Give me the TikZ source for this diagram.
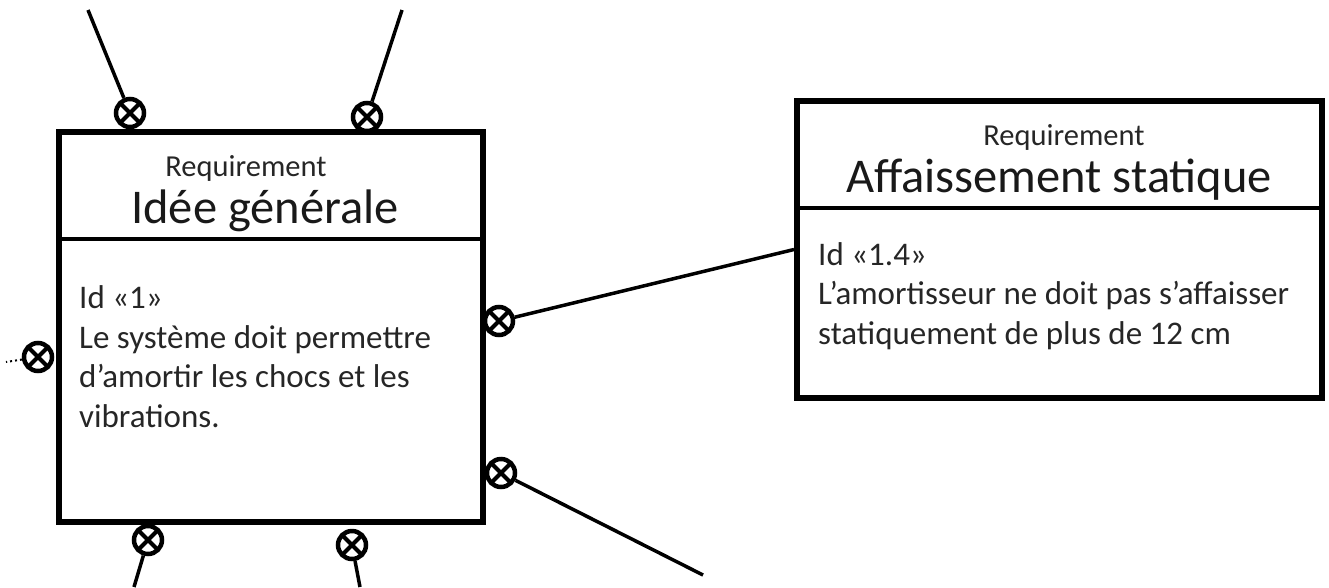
\documentclass[tikz,border=0pt]{standalone}
\usepackage{fontspec}
\setmainfont{Carlito}
\usetikzlibrary{positioning}
\tikzset{%
	% Requirement blocks and their ports
	reqbox/.style = {rectangle, draw=black, line width=6pt, inner sep=0pt},
	reqrule/.style = {line width=4pt},
	reqlabel/.style = {inner sep=0pt, text=black!85, font=\fontsize{30.5pt}{36pt}\selectfont},
	reqtitle/.style = {inner sep=0pt, text=black!90, font=\fontsize{48.5pt}{56pt}\selectfont},
	reqbody/.style = {inner sep=0pt, align=left, text=black!85,
		font=\fontsize{33pt}{39.5pt}\selectfont},
	port/.style = {circle, draw=black, fill=white, line width=4.5pt, minimum size=28pt,
		inner sep=0pt, path picture={
			\draw[line width=4pt] (path picture bounding box.north west) -- (path picture bounding box.south east);
			\draw[line width=4pt] (path picture bounding box.north east) -- (path picture bounding box.south west);}},
	link/.style = {line width=3.5pt}
}
\begin{document}
\begin{tikzpicture}[x=1pt, y=-1pt]
	\useasboundingbox (0,0) rectangle (1329,587);
	% general requirement
	\node (reqGen) [reqbox, minimum width=424pt, minimum height=390pt] at (271,327) {};
	\draw[reqrule] ([yshift=-110pt]reqGen.north west) -- ([yshift=-110pt]reqGen.north east);
	\node (genLabel) [reqlabel, anchor=base] at (246,176) {Requirement};
	\node (genTitle) [reqtitle, anchor=base] at (265,223) {Idée générale};
	\node (genBody) [reqbody, anchor=base west] at (79,427) {Id «1»\\Le système doit permettre\\d’amortir les chocs et les\\vibrations.};
	% static sag requirement
	\node (reqSag) [reqbox, minimum width=525pt, minimum height=297pt] at (1059.5,249.5) {};
	\draw[reqrule] ([yshift=-110pt]reqSag.north west) -- ([yshift=-110pt]reqSag.north east);
	\node (sagLabel) [reqlabel, anchor=base] at (1064,145) {Requirement};
	\node (sagTitle) [reqtitle, anchor=base] at (1059,192) {Affaissement statique};
	\node (sagBody) [reqbody, anchor=base west] at (818,344) {Id «1.4»\\L’amortisseur ne doit pas s’affaisser\\statiquement de plus de 12 cm};
	% ports
	\node (portA) [port] at (130,113) {};
	\node (portB) [port] at (367,117) {};
	\node (portC) [port] at (38,357) {};
	\node (portD) [port] at (499,321) {};
	\node (portE) [port] at (501,473) {};
	\node (portF) [port] at (148,540) {};
	\node (portG) [port] at (352,545) {};
	% free ends
	\coordinate (endA) at (88,10);
	\coordinate (endB) at (402,10);
	\coordinate (endC) at (6,362);
	\coordinate (endE) at (703,575);
	\coordinate (endF) at (134,587);
	\coordinate (endG) at (360,587);
	\draw[link] (portA) -- (endA);
	\draw[link] (portB) -- (endB);
	\draw[link, line width=2pt, dash pattern=on 2pt off 3pt] (portC) -- (endC);
	\draw[link] (portD) -- (reqSag.west);
	\draw[link] (portE) -- (endE);
	\draw[link] (portF) -- (endF);
	\draw[link] (portG) -- (endG);
\end{tikzpicture}
\end{document}
